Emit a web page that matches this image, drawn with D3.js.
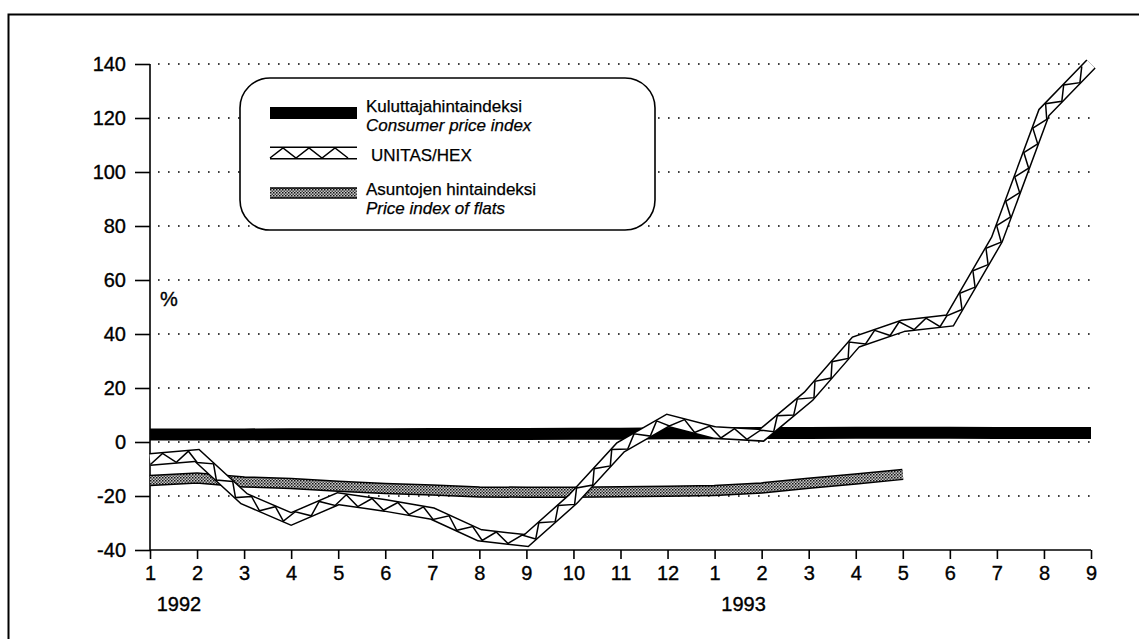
<!DOCTYPE html>
<html>
<head>
<meta charset="utf-8">
<script src="https://cdn.jsdelivr.net/npm/d3@7"></script>
<style>
  body { margin: 0; background: #fff; }
  text { font-family: "Liberation Sans", Arial, sans-serif; fill: #000; stroke: #000; stroke-width: 0.35px; }
  .tick text { font-size: 20px; }
  .grid { stroke: #000; stroke-width: 1.6; stroke-dasharray: 1.6 8.4; }
</style>
</head>
<body>
<svg width="1139" height="639"></svg>
<script>
var months = ["1","2","3","4","5","6","7","8","9","10","11","12","1","2","3","4","5","6","7","8","9"];
var years = ["1992", "1993"];
var yearStart = [0, 12];
var yTicks = [-40, -20, 0, 20, 40, 60, 80, 100, 120, 140];

var cpi = [2.8, 2.8, 2.8, 2.9, 2.9, 2.9, 3.0, 3.0, 3.0, 3.1, 3.1, 3.2, 3.2, 3.3, 3.3, 3.4, 3.4, 3.4, 3.3, 3.3, 3.3];
var unitas = [-6.5, -5, -21, -28.5, -21, -23.5, -26.5, -34.5, -36.5, -21, -2, 8, 3.5, 2.5, 17, 37, 43, 45, 75, 122, 140];
var flats = [-14.3, -13.3, -14.8, -15.4, -16.4, -17.2, -17.8, -18.5, -18.6, -18.6, -18.4, -18.2, -18, -17, -15.3, -13.7, -12];

var svg = d3.select("svg");

var x = d3.scaleLinear().domain([0, months.length - 1]).range([150, 1091]);
var y = d3.scaleLinear().domain([-40, 140]).range([550, 64]);

// frame of the figure
svg.append("path")
    .attr("d", "M8.5,639V14.5H1139")
    .attr("fill", "none")
    .attr("stroke", "#000")
    .attr("stroke-width", 2);

var defs = svg.append("defs");
var pat = defs.append("pattern")
    .attr("id", "dots")
    .attr("patternUnits", "userSpaceOnUse")
    .attr("width", 3)
    .attr("height", 3);
pat.append("rect").attr("width", 3).attr("height", 3).attr("fill", "#c8c8c8");
pat.append("rect").attr("width", 1.5).attr("height", 1.5).attr("fill", "#111");
pat.append("rect").attr("x", 1.5).attr("y", 1.5).attr("width", 1.5).attr("height", 1.5).attr("fill", "#444");

// grid
svg.append("g")
  .selectAll("line")
  .data(yTicks.filter(function(d) { return d > -40; }))
  .enter().append("line")
    .attr("class", "grid")
    .attr("x1", x(0) + 8).attr("x2", x(20))
    .attr("y1", function(d) { return y(d); })
    .attr("y2", function(d) { return y(d); });

svg.append("g")
    .attr("transform", "translate(150,0)")
    .call(d3.axisLeft(y).tickValues(yTicks).tickSize(15).tickPadding(9).tickFormat(function(d) { return String(d); }))
    .call(function(g) { g.select(".domain").attr("stroke-width", 1.6).attr("d", "M0," + y(-40) + "V" + y(140)); })
    .call(function(g) { g.selectAll(".tick line").attr("stroke-width", 1.6); });

svg.append("g")
    .attr("transform", "translate(0," + y(-40) + ")")
    .call(d3.axisBottom(x).ticks(21).tickFormat(function(d) { return months[d]; }).tickSize(9).tickPadding(7))
    .call(function(g) { g.select(".domain").attr("stroke-width", 1.6).attr("d", "M" + x(0) + ",0H" + x(20)); })
    .call(function(g) { g.selectAll(".tick line").attr("stroke-width", 1.6); });

svg.append("g")
  .selectAll("text")
  .data(years)
  .enter().append("text")
    .attr("x", function(d, i) { return x(yearStart[i]) + 29; })
    .attr("y", 611)
    .attr("text-anchor", "middle")
    .style("font-size", "20px")
    .text(function(d) { return d; });

svg.append("text")
    .attr("x", 169)
    .attr("y", 306)
    .attr("text-anchor", "middle")
    .style("font-size", "20px")
    .text("%");

var line = d3.line()
    .x(function(d, i) { return x(i); })
    .y(function(d) { return y(d); });

function zigzag(pts, half, step) {
  var segs = [], total = 0;
  for (var i = 1; i < pts.length; i++) {
    var dx = pts[i][0] - pts[i-1][0], dy = pts[i][1] - pts[i-1][1];
    var len = Math.sqrt(dx * dx + dy * dy);
    segs.push({p: pts[i-1], dx: dx / len, dy: dy / len, len: len, start: total});
    total += len;
  }
  var out = [], k = 0, sign = 1;
  for (var s = 0; s <= total + 0.01; s += step) {
    while (k < segs.length - 1 && s > segs[k].start + segs[k].len) k++;
    var sg = segs[k], t = s - sg.start;
    var px = sg.p[0] + sg.dx * t, py = sg.p[1] + sg.dy * t;
    out.push([px - sg.dy * half * sign, py + sg.dx * half * sign]);
    sign = -sign;
  }
  return d3.line()(out);
}

function drawSolid(g, d) {
  g.append("path").attr("d", d).attr("fill", "none")
      .attr("stroke", "#000").attr("stroke-width", 12);
}

function drawDotted(g, d) {
  g.append("path").attr("d", d).attr("fill", "none")
      .attr("stroke", "#000").attr("stroke-width", 11.5);
  g.append("path").attr("d", d).attr("fill", "none")
      .attr("stroke", "url(#dots)").attr("stroke-width", 8.5);
}

function drawHatched(g, pts) {
  var d = d3.line()(pts);
  g.append("path").attr("d", d).attr("fill", "none")
      .attr("stroke", "#000").attr("stroke-width", 13);
  g.append("path").attr("d", d).attr("fill", "none")
      .attr("stroke", "#fff").attr("stroke-width", 10);
  g.append("path").attr("d", zigzag(pts, 5, 13)).attr("fill", "none")
      .attr("stroke", "#000").attr("stroke-width", 1.5);
}

var plot = svg.append("g");
drawSolid(plot, line(cpi));
drawDotted(plot, line(flats));
drawHatched(plot, unitas.map(function(d, i) { return [x(i), y(d)]; }));

// legend
var legend = svg.append("g");
legend.append("rect")
    .attr("x", 240).attr("y", 78)
    .attr("width", 415).attr("height", 152)
    .attr("rx", 30)
    .attr("fill", "#fff")
    .attr("stroke", "#000")
    .attr("stroke-width", 1.6);

drawSolid(legend, d3.line()([[270, 113], [357, 113]]));
drawHatched(legend, [[270, 153], [357, 153]]);
drawDotted(legend, d3.line()([[270, 193], [357, 193]]));

var legendText = [
  {t: "Kuluttajahintaindeksi", y: 112, italic: false, x: 366},
  {t: "Consumer price index", y: 131, italic: true, x: 366},
  {t: "UNITAS/HEX", y: 161, italic: false, x: 371},
  {t: "Asuntojen hintaindeksi", y: 195, italic: false, x: 366},
  {t: "Price index of flats", y: 214, italic: true, x: 366}
];
legend.selectAll("text.leg")
  .data(legendText)
  .enter().append("text")
    .attr("class", "leg")
    .attr("x", function(d) { return d.x; })
    .attr("y", function(d) { return d.y; })
    .style("font-size", "17px")
    .style("stroke-width", "0.25px")
    .style("font-style", function(d) { return d.italic ? "italic" : "normal"; })
    .text(function(d) { return d.t; });
</script>
</body>
</html>
